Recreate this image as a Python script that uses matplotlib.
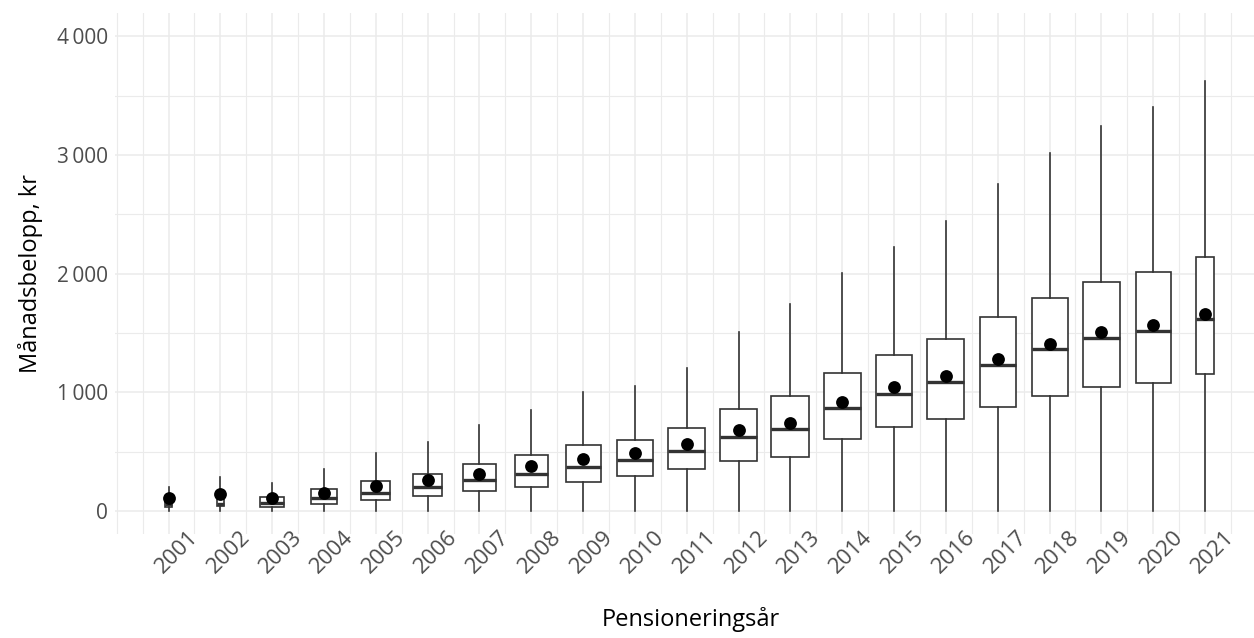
import matplotlib
matplotlib.use("Agg")
import matplotlib.pyplot as plt
import matplotlib.transforms as mtransforms
from matplotlib.ticker import FuncFormatter, MultipleLocator
import numpy as np

# data (kr per month)
years = list(range(2001, 2022))
whisker_low = [0] * 21
q1 = [35, 45, 37, 62, 93, 126, 167, 202, 248, 298, 354, 424, 452, 611, 707, 775, 879, 973, 1041, 1083, 1151]
median = [55, 60, 65, 107, 149, 199, 258, 309, 371, 427, 503, 621, 691, 868, 988, 1086, 1234, 1364, 1462, 1521, 1615]
q3 = [85, 100, 121, 182, 255, 312, 392, 469, 553, 601, 702, 862, 969, 1165, 1317, 1447, 1633, 1793, 1926, 2015, 2139]
whisker_high = [200, 284, 236, 351, 486, 581, 722, 848, 1005, 1050, 1207, 1505, 1741, 2004, 2225, 2441, 2754, 3018, 3246, 3405, 3621]
means = [112, 143, 107, 154, 211, 261, 316, 376, 441, 492, 567, 680, 744, 918, 1041, 1136, 1281, 1405, 1506, 1565, 1663]
# relative number of people per year (box width ~ sqrt(n))
antal = [3, 3, 42, 53, 61, 61, 80, 80, 89, 95, 100, 100, 105, 100, 100, 100, 95, 95, 100, 89, 24]

plt.rcParams['font.family'] = ['Open Sans', 'DejaVu Sans']

fig = plt.figure(figsize=(12.54, 6.38), dpi=100)
ax = fig.add_axes([0.0917, 0.163, 0.9083, 0.8167])

stats = []
for i in range(len(years)):
    stats.append(dict(med=median[i], q1=q1[i], q3=q3[i],
                      whislo=whisker_low[i], whishi=whisker_high[i], fliers=[]))
nmax = max(antal)
widths = [0.73 * np.sqrt(n / nmax) for n in antal]

line_col = '#333333'
ax.bxp(stats, positions=years, widths=widths, showcaps=False, showfliers=False,
       patch_artist=True,
       boxprops=dict(facecolor='white', edgecolor=line_col, linewidth=1.2),
       whiskerprops=dict(color=line_col, linewidth=1.2),
       medianprops=dict(color=line_col, linewidth=2.4),
       zorder=3)
ax.scatter(years, means, s=85, color='black', zorder=4, linewidths=0)

ax.set_xlim(1999.967, 2021.946)
ax.set_ylim(-194, 4198)
ax.set_xticks(years)
ax.set_xticklabels([str(y) for y in years])
ax.xaxis.set_minor_locator(MultipleLocator(0.5))
ax.yaxis.set_major_locator(MultipleLocator(1000))
ax.yaxis.set_minor_locator(MultipleLocator(500))
ax.yaxis.set_major_formatter(FuncFormatter(lambda v, _: f"{int(v):,}".replace(",", "\u2009")))

ax.grid(which='major', color='#EBEBEB', linewidth=1.1, zorder=0)
ax.grid(which='minor', color='#EBEBEB', linewidth=0.8, zorder=0)
ax.set_axisbelow(True)
for s in ax.spines.values():
    s.set_visible(False)
ax.tick_params(which='both', length=0)
ax.tick_params(axis='y', pad=5, labelsize=15, labelcolor='#4D4D4D')
ax.tick_params(axis='x', pad=13, labelsize=16, labelcolor='#4D4D4D')

offset = mtransforms.ScaledTranslation(0.085, 0, fig.dpi_scale_trans)
for lab in ax.get_xticklabels():
    lab.set_rotation(45)
    lab.set_rotation_mode('anchor')
    lab.set_ha('center')
    lab.set_va('center')
    lab.set_transform(lab.get_transform() + offset)

ax.set_xlabel("Pensioneringsår", fontsize=17, va='center')
ax.xaxis.set_label_coords(0.506, -0.165)
ax.set_ylabel("Månadsbelopp, kr", fontsize=17, va='center')
ax.yaxis.set_label_coords(-0.0746, 0.5)

fig.savefig("out.png", dpi=100)
